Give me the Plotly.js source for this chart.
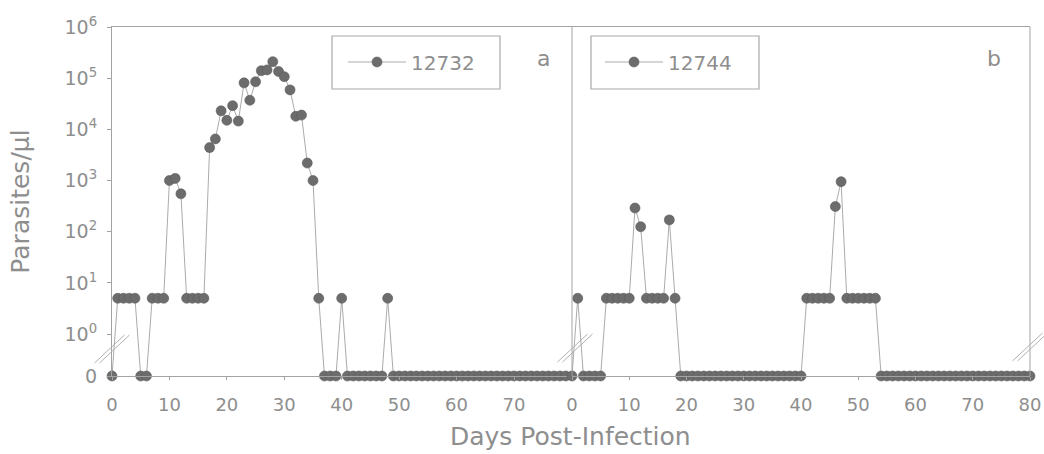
<!DOCTYPE html>
<html>
<head>
<meta charset="utf-8">
<script src="https://cdn.plot.ly/plotly-3.0.1.min.js"></script>
<style>html,body{margin:0;padding:0;background:#fff;}#chart{width:1044px;height:454px;}</style>
</head>
<body>
<div id="chart"></div>
<script>
// ---- data (parasites per µl, one reading per day) ----
const seriesA_name = "12732";
const seriesA_days = Array.from({length: 80}, (_, i) => i); // days 0..79
const seriesA_vals = [
  0, 5, 5, 5, 5, 0, 0, 5, 5, 5,
  1000, 1100, 550, 5, 5, 5, 5, 4400, 6500, 23000,
  15000, 29000, 14500, 81000, 37000, 85000, 140000, 145000, 210000, 135000,
  107000, 59000, 18000, 19000, 2200, 1000, 5, 0, 0, 0,
  5, 0, 0, 0, 0, 0, 0, 0, 5, 0,
  0, 0, 0, 0, 0, 0, 0, 0, 0, 0,
  0, 0, 0, 0, 0, 0, 0, 0, 0, 0,
  0, 0, 0, 0, 0, 0, 0, 0, 0, 0
];
const seriesB_name = "12744";
const seriesB_days = Array.from({length: 81}, (_, i) => i); // days 0..80
const seriesB_vals = [
  0, 5, 0, 0, 0, 0, 5, 5, 5, 5,
  5, 290, 125, 5, 5, 5, 5, 170, 5, 0,
  0, 0, 0, 0, 0, 0, 0, 0, 0, 0,
  0, 0, 0, 0, 0, 0, 0, 0, 0, 0,
  0, 5, 5, 5, 5, 5, 310, 950, 5, 5,
  5, 5, 5, 5, 0, 0, 0, 0, 0, 0,
  0, 0, 0, 0, 0, 0, 0, 0, 0, 0,
  0, 0, 0, 0, 0, 0, 0, 0, 0, 0,
  0
];
const xTicksA = [0, 10, 20, 30, 40, 50, 60, 70];
const xTicksB = [0, 10, 20, 30, 40, 50, 60, 70, 80];
const yTickText = ["0", "10<sup>0</sup>", "10<sup>1</sup>", "10<sup>2</sup>", "10<sup>3</sup>", "10<sup>4</sup>", "10<sup>5</sup>", "10<sup>6</sup>"];
const panelLabels = ["a", "b"];

// broken log axis: zero readings are drawn on the "0" line below 10^0
const LOG_ZERO = -0.82;
const ZERO_POS = Math.pow(10, LOG_ZERO);
const mapZero = v => (v === 0 ? ZERO_POS : v);
const yTickVals = [ZERO_POS, 1, 10, 100, 1000, 10000, 100000, 1000000];

const FONT = "DejaVu Sans, Arial, sans-serif";
const AX = "#a3a3a3";
const TXT = "#8e8e8e";
const MK = "#6c6c6c";

function trace(name, days, vals, xa, leg) {
  return {
    type: "scatter", mode: "lines+markers", name: name,
    x: days, y: vals.map(mapZero), xaxis: xa, yaxis: "y", legend: leg,
    cliponaxis: false,
    line: {color: "#ababab", width: 1},
    marker: {color: MK, size: 10, line: {color: "#5a5a5a", width: 0.6}}
  };
}

const data = [
  trace(seriesA_name, seriesA_days, seriesA_vals, "x", "legend"),
  trace(seriesB_name, seriesB_days, seriesB_vals, "x2", "legend2")
];

const L = 112, R = 1030, T = 27, B = 376;
const W = R - L, H = B - T;
const px = x => (x - L) / W;
const py = y => (B - y) / H;
const split = px(572);

const shapes = [];
// right border and panel divider
shapes.push({type: "line", xref: "paper", yref: "paper", x0: 1, x1: 1, y0: 0, y1: 1, line: {color: AX, width: 1}});
shapes.push({type: "line", xref: "paper", yref: "paper", x0: split, x1: split, y0: 0, y1: 1, line: {color: AX, width: 1}});
// axis break marks
[[112, 349], [575, 348], [1030, 347]].forEach(([cx, cy]) => {
  [-2.5, 2.5].forEach(o => {
    shapes.push({type: "line", xref: "paper", yref: "paper",
      x0: px(cx - 15 + o), y0: py(cy + 14), x1: px(cx + 15 + o), y1: py(cy - 14),
      line: {color: "#b0b0b0", width: 1}});
  });
});
// legend boxes
[[332, 500], [591, 759]].forEach(([x0, x1]) => {
  shapes.push({type: "rect", xref: "paper", yref: "paper", x0: px(x0), x1: px(x1), y0: py(89), y1: py(36),
    line: {color: "#a8a8a8", width: 1.2}, fillcolor: "rgba(0,0,0,0)"});
});

const xCommon = {
  showline: true, linecolor: AX, linewidth: 1, mirror: true,
  ticks: "outside", ticklen: 3, tickcolor: AX, showgrid: false, zeroline: false,
  tickfont: {family: FONT, size: 18, color: TXT}, ticklabelstandoff: 9
};

const legendCommon = {xanchor: "left", yanchor: "middle", bgcolor: "rgba(0,0,0,0)",
  borderwidth: 0, itemwidth: 58, font: {family: FONT, size: 20, color: TXT}};

const layout = {
  width: 1044, height: 454,
  margin: {l: L, r: 1044 - R, t: T, b: 454 - B},
  paper_bgcolor: "#fff", plot_bgcolor: "#fff",
  font: {family: FONT, color: TXT},
  xaxis: Object.assign({}, xCommon, {
    domain: [0, split], range: [0, 80.1], tickvals: xTicksA, anchor: "y"
  }),
  xaxis2: Object.assign({}, xCommon, {
    domain: [split, 1], range: [0, 80], tickvals: xTicksB, anchor: "y"
  }),
  yaxis: {
    type: "log", range: [LOG_ZERO, 6], showline: true, linecolor: AX, linewidth: 1,
    ticks: "outside", ticklen: 4, tickcolor: AX, showgrid: false, zeroline: false,
    tickvals: yTickVals, ticktext: yTickText,
    tickfont: {family: FONT, size: 19, color: TXT}, ticklabelstandoff: 6,
    title: {text: "Parasites/µl", font: {family: FONT, size: 25, color: TXT}, standoff: 27}
  },
  showlegend: true,
  legend: Object.assign({}, legendCommon, {x: px(343), y: py(62)}),
  legend2: Object.assign({}, legendCommon, {x: px(600), y: py(62)}),
  shapes: shapes,
  annotations: [
    {xref: "paper", yref: "paper", x: px(543), y: py(58), yanchor: "middle", text: panelLabels[0], showarrow: false,
      font: {family: FONT, size: 22, color: TXT}},
    {xref: "paper", yref: "paper", x: px(1003), y: py(58), yanchor: "middle", text: panelLabels[1], showarrow: false,
      font: {family: FONT, size: 22, color: TXT}},
    {xref: "paper", yref: "paper", x: px(570), y: py(453), yanchor: "bottom", text: "Days Post-Infection", showarrow: false,
      font: {family: FONT, size: 25, color: TXT}}
  ]
};

Plotly.newPlot("chart", data, layout, {staticPlot: true, displayModeBar: false});
</script>
</body>
</html>
